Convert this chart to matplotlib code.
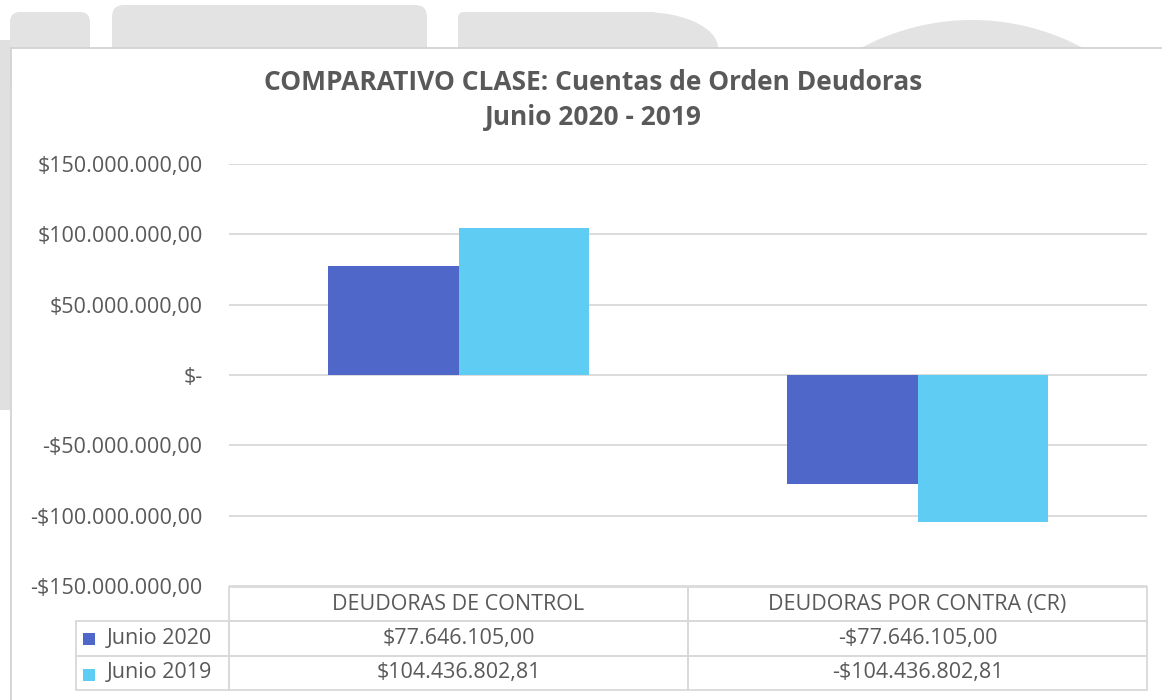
import numpy as np
import matplotlib
matplotlib.use('Agg')
import matplotlib.pyplot as plt
from matplotlib.patches import Rectangle, FancyBboxPatch, Circle, Ellipse
from matplotlib.ticker import FuncFormatter, MultipleLocator

# datos
categorias = ['DEUDORAS DE CONTROL', 'DEUDORAS POR CONTRA (CR)']
series = ['Junio 2020', 'Junio 2019']
junio_2020 = [77646105.00, -77646105.00]
junio_2019 = [104436802.81, -104436802.81]
colores = ['#4E67C8', '#5ECCF3']

titulo = 'COMPARATIVO CLASE: Cuentas de Orden Deudoras\nJunio 2020 - 2019'

TXT = '#595959'
GRID = '#D9D9D9'

plt.rcParams['font.family'] = ['Open Sans', 'DejaVu Sans']


def pesos(v):
    # formato contable: $1.234.567,89
    if v == 0:
        return '$-'
    s = '{:,.2f}'.format(abs(v)).replace(',', '#').replace('.', ',').replace('#', '.')
    return ('-$' if v < 0 else '$') + s


fig = plt.figure(figsize=(11.62, 7.0), dpi=100)
W, H = 1162, 700

# fondo (formas grises detras del grafico), en pixeles
bg = fig.add_axes([0, 0, 1, 1], zorder=0)
bg.set_xlim(0, W)
bg.set_ylim(H, 0)
bg.axis('off')
gris = '#E3E3E3'
bg.add_patch(FancyBboxPatch((10, 12), 80, 80, boxstyle='round,pad=0,rounding_size=10', fc=gris, ec='none'))
bg.add_patch(FancyBboxPatch((112, 5), 315, 90, boxstyle='round,pad=0,rounding_size=12', fc=gris, ec='none'))
bg.add_patch(FancyBboxPatch((458, 12), 200, 80, boxstyle='round,pad=0,rounding_size=6', fc=gris, ec='none'))
bg.add_patch(Ellipse((643, 48), 150, 72, fc=gris, ec='none'))
bg.add_patch(Circle((972, 254), 234, fc=gris, ec='none'))
bg.add_patch(Rectangle((0, 40), 10, 370, fc='#E0E0E0', ec='none'))
bg.add_patch(Rectangle((11, 48), W, H, fc='white', ec='#D0D0D0', lw=1.2))

# grafico de barras
ax = fig.add_axes([229 / W, 1 - 586 / H, 918 / W, 422 / H], zorder=1)
ax.set_facecolor('none')
x = np.arange(len(categorias))
ancho = 0.285
ax.bar(x - ancho / 2, junio_2020, ancho, color=colores[0], zorder=3)
ax.bar(x + ancho / 2, junio_2019, ancho, color=colores[1], zorder=3)
ax.set_xlim(-0.5, len(categorias) - 0.5)
ax.set_ylim(-150e6, 150e6)
ax.yaxis.set_major_locator(MultipleLocator(50e6))
ax.yaxis.set_major_formatter(FuncFormatter(lambda v, p: pesos(v)))
ax.grid(axis='y', color=GRID, lw=1.3, zorder=0)
ax.set_xticks([])
for s in ax.spines.values():
    s.set_visible(False)
ax.tick_params(axis='y', length=0, pad=19, labelsize=15.5, labelcolor=TXT)

fig.text(593 / W, 1 - 100 / H, titulo, ha='center', va='center', fontsize=19,
         fontweight='bold', color=TXT, linespacing=1.38)

# tabla de datos
tab_ax = fig.add_axes([76 / W, 10 / H, 1071 / W, 103 / H], zorder=2)
tab_ax.axis('off')
filas = [[''] + categorias]
for nombre, vals in zip(series, [junio_2020, junio_2019]):
    filas.append([nombre] + [pesos(v) for v in vals])
anchos = np.array([153, 459, 459]) / 1071
tabla = tab_ax.table(cellText=filas, colWidths=anchos, cellLoc='center', bbox=[0, 0, 1, 1])
tabla.auto_set_font_size(False)
tabla.set_fontsize(15.5)
for (r, c), cell in tabla.get_celld().items():
    cell.set_edgecolor(GRID)
    cell.set_facecolor('none')
    cell.set_linewidth(1.3)
    cell.get_text().set_color(TXT)
    if r == 0 and c == 0:
        cell.visible_edges = 'open'
    if c == 0 and r > 0:
        cell.get_text().set_ha('left')
        cell._loc = 'left'
        cell.PAD = 0.2

# cuadros de leyenda
for i, col in enumerate(colores):
    yc = [639, 675][i]
    bg.add_patch(Rectangle((83, yc - 6), 12, 12, fc=col, ec='none', zorder=5))

fig.savefig('out.png', dpi=100, facecolor='white')
